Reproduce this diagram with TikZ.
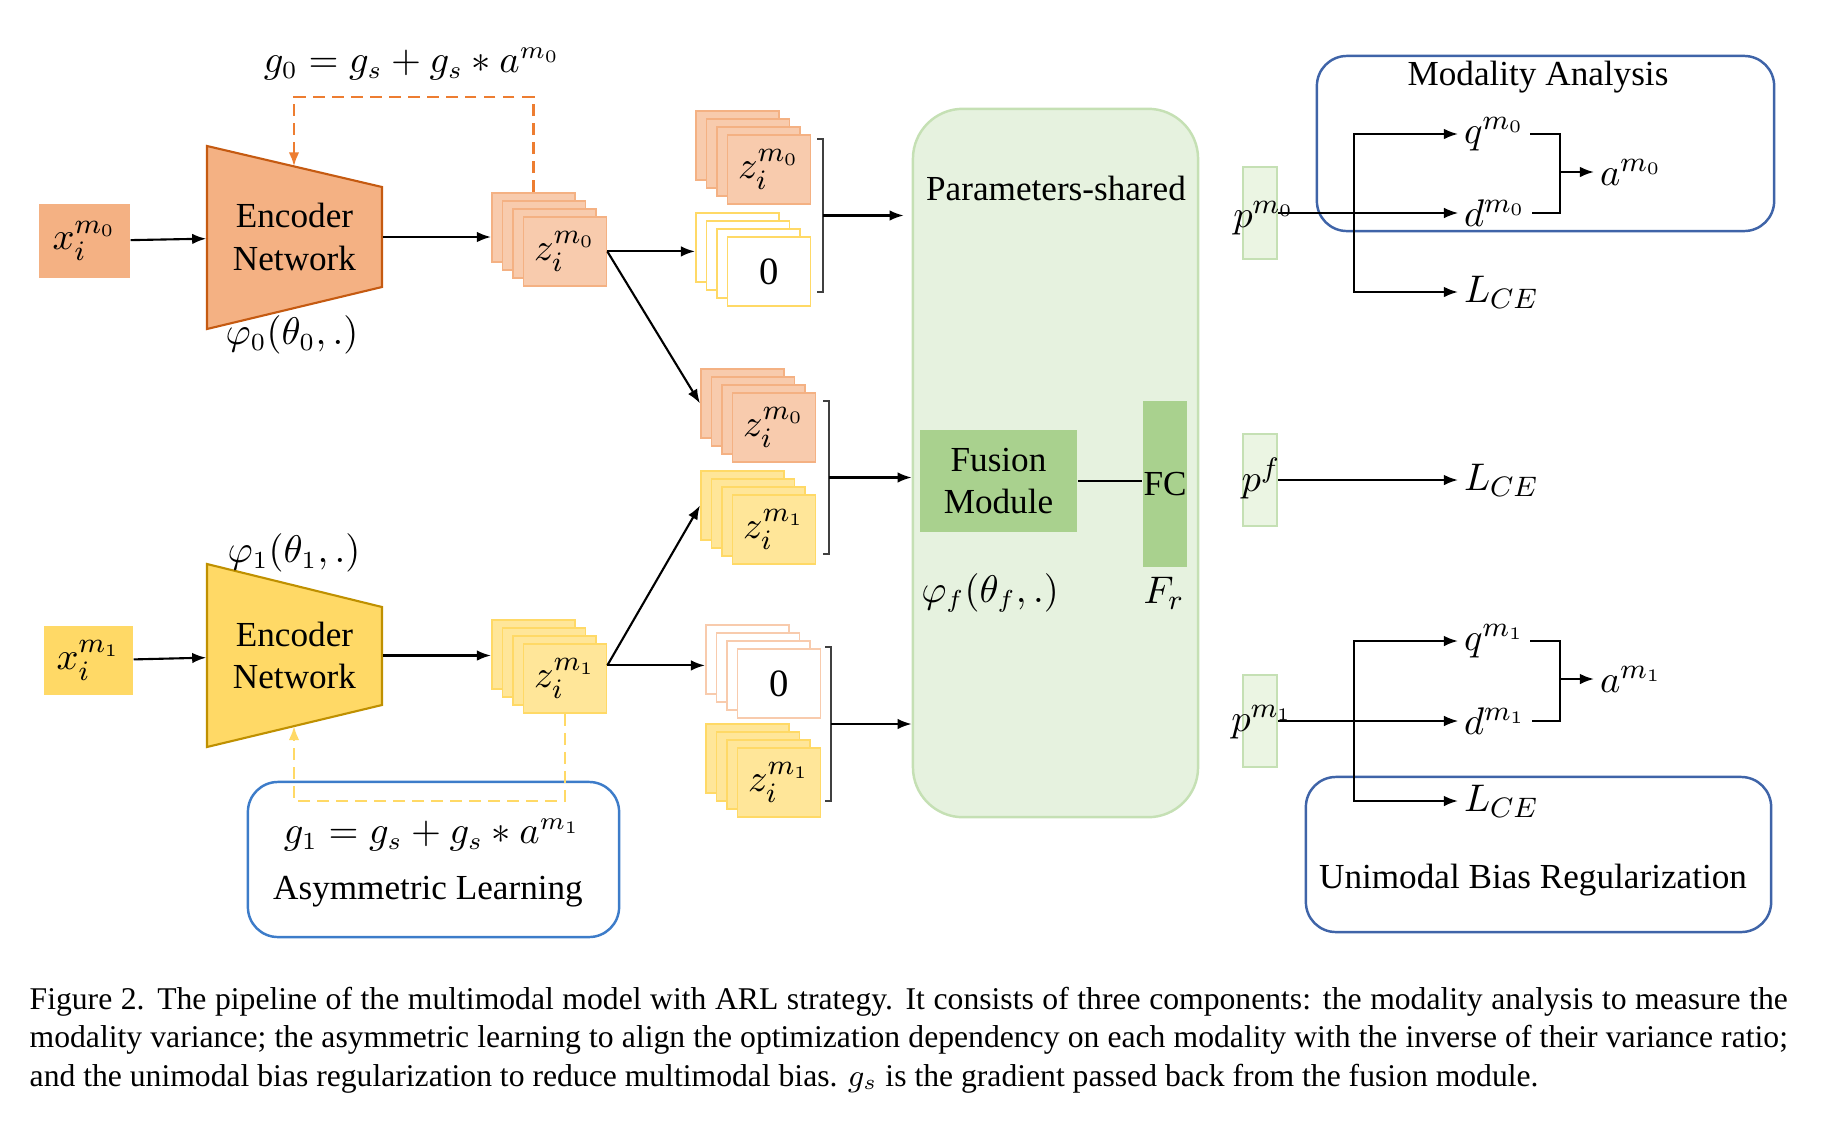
\documentclass[tikz,border=0pt]{standalone}
\usepackage{fontspec}
\setmainfont{Liberation Serif}
\usetikzlibrary{arrows.meta,positioning}
\definecolor{encorange}{HTML}{F4B183}
\definecolor{encorangeline}{HTML}{C55A11}
\definecolor{featorange}{HTML}{F8CBAD}
\definecolor{encyellow}{HTML}{FFD966}
\definecolor{encyellowline}{HTML}{BF9000}
\definecolor{featyellow}{HTML}{FFE699}
\definecolor{dashorange}{HTML}{ED7D31}
\definecolor{sharedgreen}{HTML}{E6F2DF}
\definecolor{sharedline}{HTML}{C5E0B4}
\definecolor{fusiongreen}{HTML}{A9D18E}
\definecolor{predgreen}{HTML}{EBF5E3}
\definecolor{groupblue}{HTML}{3F64A8}
\definecolor{asymblue}{HTML}{3D7CC9}
\tikzstyle{inputbox}=[
	rectangle,
	inner sep=0pt,
	font=\fontsize{11}{13}\selectfont
]
\tikzstyle{encoder}=[
	line width=0.6pt
]
\tikzstyle{encodertext}=[
	align=center,
	inner sep=0pt,
	minimum width=1.75cm
]
\tikzstyle{layer}=[
	rectangle,
	inner sep=0pt,
	minimum width=0.83cm,
	minimum height=0.69cm,
	line width=0.5pt,
	font=\fontsize{11}{13}\selectfont
]
\tikzstyle{featO}=[layer, fill=featorange, draw=encorange]
\tikzstyle{featY}=[layer, fill=featyellow, draw=encyellow]
\tikzstyle{zeroY}=[layer, fill=white, draw=encyellow]
\tikzstyle{zeroO}=[layer, fill=white, draw=featorange]
\tikzstyle{flow}=[
	-{Latex[length=4pt,width=3pt]},
	line width=0.6pt
]
\tikzstyle{thinflow}=[flow, line width=0.35pt]
\tikzstyle{grad}=[
	-{Latex[length=4pt,width=3pt]},
	dash pattern=on 3.4pt off 2pt,
	line width=0.7pt
]
\tikzstyle{group}=[
	rectangle,
	rounded corners=0.3cm,
	line width=0.7pt
]
\tikzstyle{predbox}=[
	rectangle,
	fill=predgreen,
	draw=sharedline,
	line width=0.6pt,
	minimum width=0.34cm,
	minimum height=0.92cm,
	inner sep=0pt
]
\tikzstyle{mlab}=[inner sep=1.5pt, font=\fontsize{11}{13}\selectfont]
\tikzstyle{eqlab}=[inner sep=0pt, font=\fontsize{10.5}{12}\selectfont]
\newcommand{\featstack}[5]{%
	\foreach \k in {0,1,2}
		\node [#4, anchor=north west] (#1-\k) at (#2+\k*10.5, #3+\k*8) {};
	\node [#4, anchor=north west] (#1) at (#2+31.5, #3+24) {#5};
}
\newcommand{\closebracket}[4]{%
	\draw [line width=0.4pt, black!75] (#2-6,#3) -- (#2,#3) -- (#2,#4) -- (#2-6,#4);
	\coordinate (#1) at (#2, {(#3+#4)/2});
}
\begin{document}
\begin{tikzpicture}[x=0.01cm, y=-0.01cm]
\useasboundingbox (0,0) rectangle (1834,1124);

\node [inputbox, fill=encorange, minimum width=0.91cm, minimum height=0.74cm] (x0) at (84.5,241) {$x_i^{m_0}$};
\draw [encoder, fill=encorange, draw=encorangeline] (207,146) -- (382,187) -- (382,287) -- (207,329) -- cycle;
\node [encodertext, minimum height=1cm] (enc0) at (294.5,237) {Encoder\\Network};
\node [eqlab] (phi0) at (292,335) {$\varphi_0(\theta_0,.)$};
\featstack{zs0}{491}{192}{featO}{$z_i^{m_0}$}
\draw [flow] (x0) -- (enc0);
\draw [flow] (enc0.east) -- (enc0.east -| zs0-0.west);
\coordinate (enc0top) at (294,166.4);
\draw [grad, dashorange] (zs0-0.north) -- ++(0,-95) -| (enc0top);
\node [eqlab] (g0) at (412,64) {$g_0 = g_s + g_s \ast a^{m_0}$};

\node [inputbox, fill=encyellow, minimum width=0.89cm, minimum height=0.69cm] (x1) at (88.5,660.5) {$x_i^{m_1}$};
\draw [encoder, fill=encyellow, draw=encyellowline] (207,564) -- (382,607) -- (382,705) -- (207,747) -- cycle;
\node [encodertext, minimum height=0.98cm] (enc1) at (294.5,655.5) {Encoder\\Network};
\node [eqlab] (phi1) at (294,553) {$\varphi_1(\theta_1,.)$};
\featstack{zs1}{491}{619}{featY}{$z_i^{m_1}$}
\draw [flow] (x1) -- (enc1);
\draw [flow] (enc1.east) -- (enc1.east -| zs1-0.west);
\node [group, draw=asymblue, minimum width=3.71cm, minimum height=1.55cm] (asym) at (433.5,859.5) {};
\node [eqlab] (g1) at (432,835) {$g_1 = g_s + g_s \ast a^{m_1}$};
\node (asymlab) at (428,892) {Asymmetric Learning};
\coordinate (enc1bot) at (294,726);
\draw [grad, encyellow] (zs1.south) -- ++(0,87) -| (enc1bot);

\featstack{stA}{695}{110}{featO}{$z_i^{m_0}$}
\featstack{stB}{695}{212}{zeroY}{0}
\featstack{stC}{700}{368}{featO}{$z_i^{m_0}$}
\featstack{stD}{700}{470}{featY}{$z_i^{m_1}$}
\featstack{stE}{705}{624}{zeroO}{0}
\featstack{stF}{705}{723}{featY}{$z_i^{m_1}$}
\draw [flow] (zs0.east) -- (zs0.east -| stB-0.west);
\draw [flow] (zs0.east) -- (stC-0.west);
\coordinate (zs1out) at ([yshift=0.13cm]zs1.east);
\draw [flow] (zs1out) -- (zs1out -| stE-0.west);
\draw [flow] (zs1out) -- (stD-0.west);
\closebracket{br1}{823}{139}{292}
\closebracket{br2}{829}{401}{554}
\closebracket{br3}{831}{647}{801}

\node [rectangle, rounded corners=0.5cm, fill=sharedgreen, draw=sharedline, line width=0.7pt, minimum width=2.85cm, minimum height=7.08cm] (params) at (1055.5,463) {};
\node (shared) at (1056,188) {Parameters-shared};
\node [fill=fusiongreen, minimum width=1.57cm, minimum height=1.02cm, align=center, inner sep=0pt] (fusion) at (998.5,481) {Fusion\\Module};
\node [fill=fusiongreen, minimum width=0.44cm, minimum height=1.66cm, inner sep=0pt] (fc) at (1165,484) {FC};
\draw [line width=0.6pt] (fusion.east) -- (fusion.east -| fc.west);
\node [eqlab] (phif) at (990,593) {$\varphi_f(\theta_f,.)$};
\node [mlab] (fr) at (1164,593) {$F_r$};
\draw [flow, shorten >=0.08cm] (br1) -- (br1 -| params.west);
\draw [flow] (br2) -- (br2 -| params.west);
\draw [flow] (br3) -- (br3 -| params.west);

\node [predbox] (pm0) at (1260,213) {};
\node [predbox] (pf) at (1260,480) {};
\node [predbox] (pm1) at (1260,721) {};
\node [mlab] (pm0lab) at (1264,218) {$p^{m_0}$};
\node [mlab] (pflab) at (1261,478) {$p^f$};
\node [mlab] (pm1lab) at (1262,722) {$p^{m_1}$};

\node [group, draw=groupblue, minimum width=4.57cm, minimum height=1.75cm] (analysis0) at (1545.5,143.5) {};
\node (title0) at (1538,77) {Modality Analysis};
\node [mlab, anchor=west] (qm0) at (1458,134) {$q^{m_0}$};
\node [mlab, anchor=west] (dm0) at (1458,213) {$d^{m_0}$};
\node [mlab, anchor=west] (lce0) at (1458,292) {$L_{CE}$};
\node [mlab, anchor=west] (am0) at (1594,172) {$a^{m_0}$};
\coordinate (sp0) at (1354,213);
\coordinate (mg0) at (1560,172);
\draw [thinflow] (pm0.east) -- (dm0.west);
\draw [flow] (sp0) |- (qm0.west);
\draw [flow] (sp0) |- (lce0.west);
\draw [line width=0.6pt] (qm0.east) -| (mg0) |- (dm0.east);
\draw [flow] (mg0) -- (am0.west);

\node [mlab, anchor=west] (lcef) at (1458,480) {$L_{CE}$};
\draw [flow] (pf.east) -- (lcef.west);

\node [group, draw=groupblue, minimum width=4.65cm, minimum height=1.55cm] (analysis1) at (1538.5,854.5) {};
\node (title1) at (1533,880) {Unimodal Bias Regularization};
\node [mlab, anchor=west] (qm1) at (1458,641) {$q^{m_1}$};
\node [mlab, anchor=west] (dm1) at (1458,721) {$d^{m_1}$};
\node [mlab, anchor=west] (lce1) at (1458,801) {$L_{CE}$};
\node [mlab, anchor=west] (am1) at (1594,679) {$a^{m_1}$};
\coordinate (sp1) at (1354,721);
\coordinate (mg1) at (1560,679);
\draw [thinflow] (pm1.east) -- (dm1.west);
\draw [flow] (sp1) |- (qm1.west);
\draw [flow] (sp1) |- (lce1.west);
\draw [line width=0.6pt] (qm1.east) -| (mg1) |- (dm1.east);
\draw [flow] (mg1) -- (am1.west);

\node [anchor=north west, inner sep=0pt, text width=17.57cm, align=justify, font=\fontsize{9}{10.96}\selectfont] (caption) at (29,986) {Figure 2. The pipeline of the multimodal model with ARL strategy. It consists of three components: the modality analysis to measure the\linebreak modality variance; the asymmetric learning to align the optimization dependency on each modality with the inverse of their variance ratio;\linebreak and the unimodal bias regularization to reduce multimodal bias. $g_s$ is the gradient passed back from the fusion module.};
\end{tikzpicture}
\end{document}
